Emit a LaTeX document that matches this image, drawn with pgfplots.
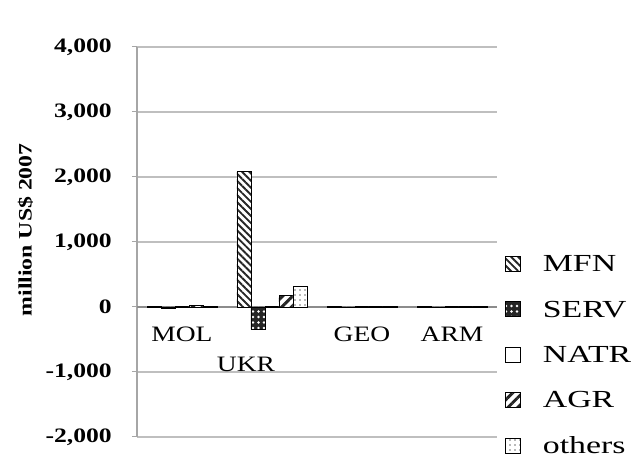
\documentclass[border=0pt]{standalone}
\usepackage{fontspec}
\setmainfont[FakeStretch=1.25]{Liberation Serif}
\newfontfamily\legfont[FakeStretch=1.38]{Liberation Serif}
\usepackage{pgfplots}
\pgfplotsset{compat=1.18}
\usetikzlibrary{patterns,patterns.meta}
\begin{document}
\begin{tikzpicture}
\path[use as bounding box] (-137pt,-23pt) rectangle (501pt,437pt);
\begin{axis}[
  scale only axis, width=360pt, height=390pt,
  at={(0,0)}, anchor=south west,
  ymin=-2000, ymax=4000, ytick={-2000,-1000,0,1000,2000,3000,4000},
  xmin=-0.5, xmax=3.5,
  axis x line=none,
  axis y line*=left,
  y axis line style={draw=gray!70, line width=1.2pt},
  ymajorgrids, grid style={gray!50, line width=1.3pt},
  major tick length=5pt, tick align=outside,
  ytick style={draw=gray!70, line width=1pt},
  /pgf/number format/assume math mode=true,
  /pgf/number format/1000 sep={,},
  yticklabel style={font=\fontsize{20.5}{24}\selectfont\bfseries, inner sep=0pt, xshift=-20pt},
  ylabel={million US\$ 2007},
  every axis y label/.style={at={(axis description cs:-0.31,0.531)}, rotate=90, anchor=center, font=\fontsize{19}{22}\selectfont\bfseries},
  ybar=0pt, bar width=14pt,
  legend style={at={(1.022,0.465)}, anchor=north west, draw=none, fill=none,
     font=\legfont\fontsize{24.5}{28}\selectfont, row sep=27.6pt, inner sep=0pt,
     nodes={inner sep=0pt},
     legend cell align=left},
  legend image code/.code={\draw[#1,line width=0.8pt] (0pt,-7pt) rectangle (15pt,8pt); \path (37pt,0pt);},
  extra y ticks={0}, extra y tick labels={},
  extra y tick style={grid style={gray!90, line width=1.3pt}, major tick length=0pt},
  clip=false,
]
\addplot[draw=black, line width=0.8pt, fill=white, postaction={pattern={Lines[angle=-45,distance=5pt,line width=1.9pt]}, pattern color=black!85}]
  coordinates {(0,15) (1,2080) (2,10) (3,10)};
\addplot[draw=black, line width=0.8pt, fill=black!85, postaction={pattern={Dots[distance=5.5pt,radius=1.3pt]}, pattern color=white}]
  coordinates {(0,-15) (1,-345) (2,-3) (3,-2)};
\addplot[draw=black, line width=0.8pt, fill=white]
  coordinates {(0,5) (1,10) (2,2) (3,2)};
\addplot[draw=black, line width=0.8pt, fill=white, postaction={pattern={Lines[angle=45,distance=7pt,line width=3pt]}, pattern color=black!85}]
  coordinates {(0,30) (1,175) (2,5) (3,5)};
\addplot[draw=black, line width=0.8pt, fill=white, postaction={pattern={Dots[distance=5pt,radius=0.8pt]}, pattern color=black!55}]
  coordinates {(0,10) (1,310) (2,5) (3,5)};
\legend{MFN,SERV,NATR,AGR,others}
\node[font=\fontsize{22}{30}\selectfont, anchor=north, inner sep=0pt] at (axis cs:0,0) [yshift=-20pt] {MOL};
\node[font=\fontsize{22}{30}\selectfont, anchor=north, inner sep=0pt] at (axis cs:1,0) [yshift=-50pt, xshift=-26pt] {UKR};
\node[font=\fontsize{22}{30}\selectfont, anchor=north, inner sep=0pt] at (axis cs:2,0) [yshift=-20pt] {GEO};
\node[font=\fontsize{22}{30}\selectfont, anchor=north, inner sep=0pt] at (axis cs:3,0) [yshift=-20pt] {ARM};
\end{axis}
\end{tikzpicture}
\end{document}
